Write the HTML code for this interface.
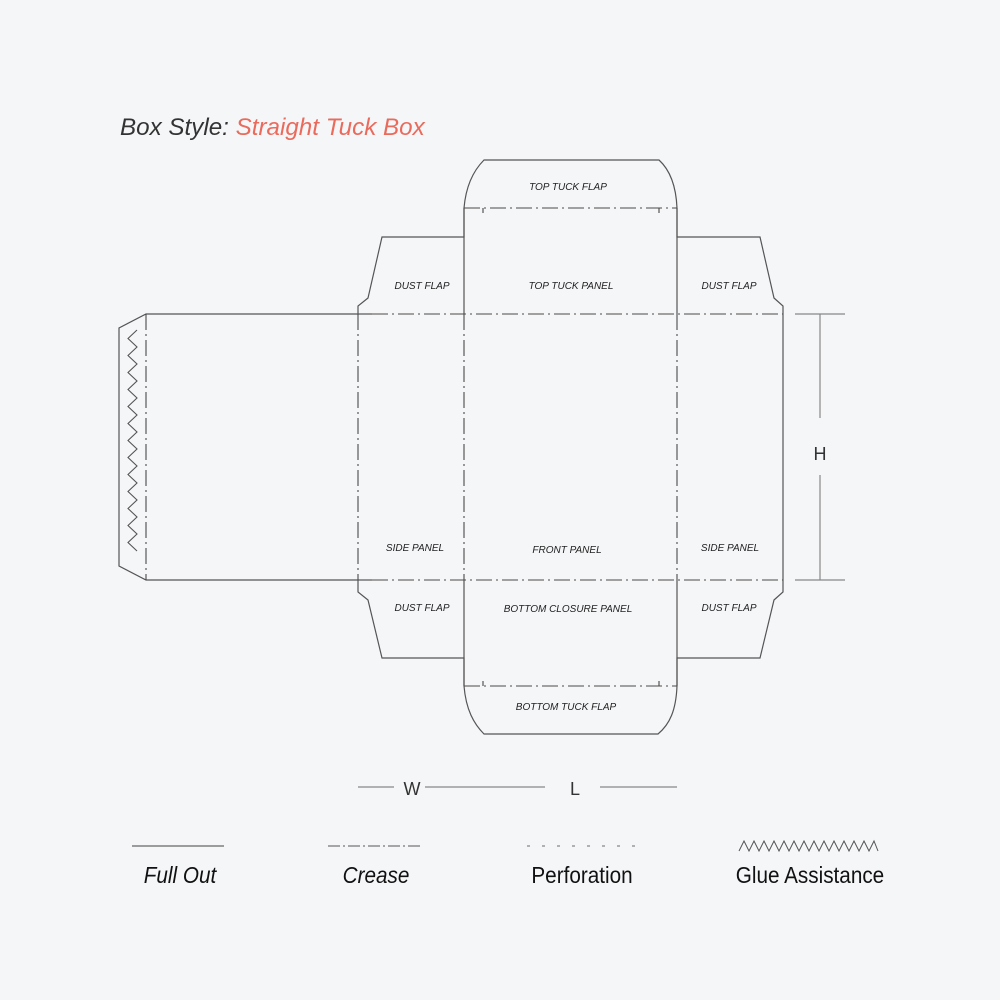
<!DOCTYPE html>
<html><head><meta charset="utf-8"><style>
html,body{margin:0;padding:0;background:#f5f6f8;}
svg{display:block}
text{font-family:"Liberation Sans",Arial,sans-serif;}
</style></head><body>
<svg width="1000" height="1000" viewBox="0 0 1000 1000" xmlns="http://www.w3.org/2000/svg">
<rect width="1000" height="1000" fill="#f5f6f8"/>
<text x="120" y="135" font-size="24.2" font-style="italic" fill="#333">Box Style: <tspan fill="#ea6a5c">Straight Tuck Box</tspan></text>
<g fill="none" stroke="#555" stroke-width="1.2">
<path d="M464,208 C466,185 474,170 484,160 L659,160 C670,170 676,185 677,208 L677,237 L760,237 L774,298 L783,306 L783,592 L774,600 L760,658 L677,658 L677,686 C676,710 670,724 658,734 L484,734 C474,724 466,710 464,686 L464,658 L382,658 L368,600 L358,592 L358,580 L146,580 L119,566 L119,328 L146,314 L358,314 L358,306 L368,298 L382,237 L464,237 Z"/>
<line x1="358" y1="314" x2="372" y2="314"/>
<line x1="358" y1="580" x2="372" y2="580"/>
<line x1="464" y1="208" x2="464" y2="314"/>
<line x1="677" y1="208" x2="677" y2="314"/>
<line x1="464" y1="580" x2="464" y2="686"/>
<line x1="677" y1="580" x2="677" y2="686"/>
<line x1="483" y1="208" x2="483" y2="213"/><line x1="659" y1="208" x2="659" y2="213"/>
<line x1="483" y1="686" x2="483" y2="681"/><line x1="659" y1="686" x2="659" y2="681"/>
</g>
<g fill="none" stroke="#4a4a4a" stroke-width="1.1" stroke-dasharray="16,4,2,4">
<line x1="372" y1="314" x2="783" y2="314"/>
<line x1="372" y1="580" x2="783" y2="580"/>
<line x1="464" y1="208" x2="677" y2="208"/>
<line x1="464" y1="686" x2="677" y2="686"/>
<line x1="146" y1="314" x2="146" y2="580"/>
<line x1="358" y1="314" x2="358" y2="580"/>
<line x1="464" y1="314" x2="464" y2="580"/>
<line x1="677" y1="314" x2="677" y2="580"/>
</g>
<polyline fill="none" stroke="#555" stroke-width="1.1" points="137,330 128,338.5 137,347 128,355.5 137,364 128,372.5 137,381 128,389.5 137,398 128,406.5 137,415 128,423.5 137,432 128,440.5 137,449 128,457.5 137,466 128,474.5 137,483 128,491.5 137,500 128,508.5 137,517 128,525.5 137,534 128,542.5 137,551"/>
<g stroke="#888" stroke-width="1.2">
<line x1="795" y1="314" x2="845" y2="314"/>
<line x1="795" y1="580" x2="845" y2="580"/>
<line x1="820" y1="314" x2="820" y2="418"/>
<line x1="820" y1="475" x2="820" y2="580"/>
<line x1="358" y1="787" x2="394" y2="787"/>
<line x1="425" y1="787" x2="545" y2="787"/>
<line x1="600" y1="787" x2="677" y2="787"/>
</g>
<text x="820" y="460" font-size="18" text-anchor="middle" fill="#333">H</text>
<text x="412" y="795" font-size="18" text-anchor="middle" fill="#333">W</text>
<text x="575" y="795" font-size="18" text-anchor="middle" fill="#333">L</text>
<g font-size="10" font-style="italic" fill="#222" text-anchor="middle">
<text x="568" y="190">TOP TUCK FLAP</text>
<text x="571" y="289">TOP TUCK PANEL</text>
<text x="422" y="289">DUST FLAP</text>
<text x="729" y="289">DUST FLAP</text>
<text x="415" y="551">SIDE PANEL</text>
<text x="567" y="553">FRONT PANEL</text>
<text x="730" y="551">SIDE PANEL</text>
<text x="422" y="611">DUST FLAP</text>
<text x="568" y="612">BOTTOM CLOSURE PANEL</text>
<text x="729" y="611">DUST FLAP</text>
<text x="566" y="710">BOTTOM TUCK FLAP</text>
</g>
<line x1="132" y1="846" x2="224" y2="846" stroke="#666" stroke-width="1.2"/>
<line x1="328" y1="846" x2="420" y2="846" stroke="#777" stroke-width="1.2" stroke-dasharray="12,3,2,3"/>
<line x1="527" y1="846" x2="637" y2="846" stroke="#888" stroke-width="1.2" stroke-dasharray="3,12"/>
<polyline fill="none" stroke="#555" stroke-width="1" points="739,851 744,841 749,851 754,841 759,851 764,841 769,851 774,841 779,851 784,841 789,851 794,841 799,851 804,841 809,851 814,841 819,851 824,841 829,851 834,841 839,851 844,841 849,851 854,841 859,851 864,841 869,851 874,841 878,851"/>
<g font-size="23" fill="#111" text-anchor="middle">
<text x="180" y="883" font-style="italic" transform="translate(180 0) scale(0.9 1) translate(-180 0)">Full Out</text>
<text x="376" y="883" font-style="italic" transform="translate(376 0) scale(0.9 1) translate(-376 0)">Crease</text>
<text x="582" y="883" transform="translate(582 0) scale(0.9 1) translate(-582 0)">Perforation</text>
<text x="810" y="883" transform="translate(810 0) scale(0.9 1) translate(-810 0)">Glue Assistance</text>
</g>
</svg>
</body></html>
